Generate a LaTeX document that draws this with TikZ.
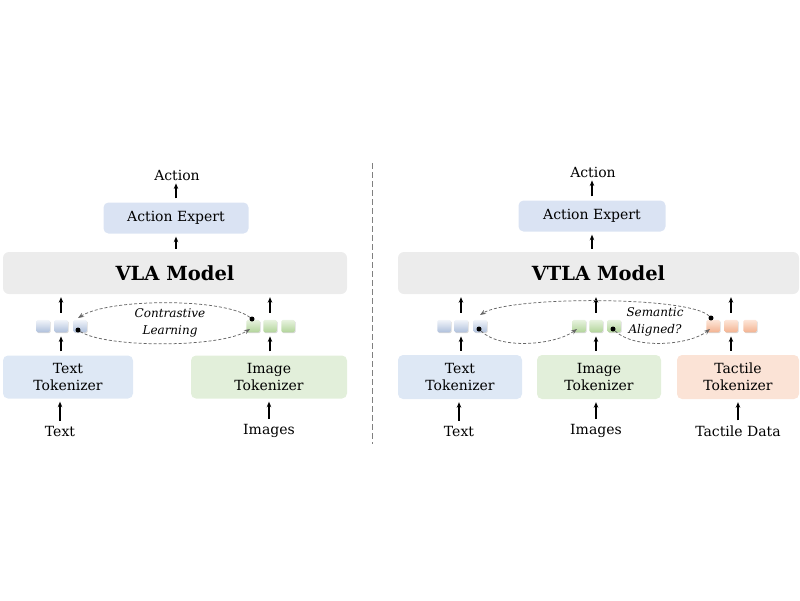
\documentclass[tikz,border=0pt]{standalone}
\usepackage{fontspec}
\setmainfont{DejaVu Serif}
\usetikzlibrary{arrows.meta,calc,shadows,positioning}
\definecolor{aeblue}{HTML}{DAE3F3}
\definecolor{modgray}{HTML}{ECECEC}
\definecolor{txtblue}{HTML}{DEE8F5}
\definecolor{imggreen}{HTML}{E2EFDA}
\definecolor{tacorange}{HTML}{FBE3D6}
\definecolor{tkbluetop}{HTML}{F2F5FA}
\definecolor{tkblue}{HTML}{AFC0DC}
\definecolor{tkgreentop}{HTML}{E8F3E0}
\definecolor{tkgreen}{HTML}{B2D49A}
\definecolor{tkorangetop}{HTML}{FDE6D9}
\definecolor{tkorange}{HTML}{F3B391}
\begin{document}
\begin{tikzpicture}[x=1pt,y=-1pt,
  lbl/.style={font=\fontsize{14}{17}\selectfont, align=center, inner sep=0pt},
  box/.style={rounded corners=5pt, inner sep=0pt, font=\fontsize{14}{17}\selectfont, align=center},
  model/.style={rounded corners=6pt, fill=modgray, inner sep=0pt, font=\bfseries\fontsize{19.5}{22}\selectfont},
  tok/.style={rounded corners=1.5pt, minimum width=13.5pt, minimum height=12.5pt, inner sep=0pt,
     drop shadow={shadow xshift=0.9pt, shadow yshift=-0.9pt, opacity=0.3, fill=gray}},
  tkb/.style={tok, top color=tkbluetop, bottom color=tkblue},
  tkg/.style={tok, top color=tkgreentop, bottom color=tkgreen},
  tko/.style={tok, top color=tkorangetop, bottom color=tkorange},
  up/.style={-{Stealth[length=5.5pt,width=4.5pt]}, line width=1.3pt},
  dashlink/.style={dash pattern=on 3pt off 2pt, draw=black!60, line width=0.75pt, -{Stealth[length=6pt,width=4.5pt]}},
  dotc/.style={circle, fill=black, inner sep=0pt, minimum size=5pt},
  it/.style={font=\itshape\fontsize{12}{17}\selectfont, align=center, inner sep=0pt}
]
\useasboundingbox (0,0) rectangle (800,600);

% divider
\coordinate (dtop) at (372,163);
\coordinate (dbot) at (372,444);
\draw[gray, line width=0.8pt, dash pattern=on 6pt off 3pt] (dtop) -- (dbot);

%%%%%%%%%%%%%%%% LEFT PANEL
\node[lbl] (act1) at (177,175) {Action};
\node[box, fill=aeblue, minimum width=145pt, minimum height=31pt] (ae1) at (176,218) {Action Expert};
\node[model, minimum width=344pt, minimum height=42pt] (m1) at (175,273) {VLA Model};

\node[tkb] (b1) at (43,326) {};
\node[tkb] (b2) at (61,326) {};
\node[tkb] (b3) at (80,326) {};
\node[tkg] (g1) at (253,326) {};
\node[tkg] (g2) at (270,326) {};
\node[tkg] (g3) at (288,326) {};

\node[box, fill=txtblue, minimum width=130pt, minimum height=43pt] (tt1) at (68,377) {Text\\Tokenizer};
\node[box, fill=imggreen, minimum width=156pt, minimum height=43pt] (it1) at (269,377) {Image\\Tokenizer};

\node[lbl] (in1) at (60,431) {Text};
\node[lbl] (in2) at (269,431) {Images};

\draw[up] ($(ae1.north)+(0,-4)$) -- ($(act1.south -| ae1)+(0,3)$);
\draw[up] ($(m1.north -| ae1)+(0,-3)$) -- ($(ae1.south)+(0,3)$);
\draw[up] ($(b2.north)+(0,-7)$) -- ($(m1.south -| b2)+(0,3)$);
\draw[up] ($(g2.north)+(0,-7)$) -- ($(m1.south -| g2)+(0,3)$);
\draw[up] ($(tt1.north -| b2)+(0,-4)$) -- ($(b2.south)+(0,4)$);
\draw[up] ($(it1.north -| g2)+(0,-4)$) -- ($(g2.south)+(0,4)$);
\draw[up] ($(in1.north)+(0,-5)$) -- ($(tt1.south -| in1)+(0,3)$);
\draw[up] ($(in2.north)+(0,-5)$) -- ($(it1.south -| in2)+(0,3)$);

\node[it] (cl) at (170,323) {Contrastive\\Learning};

\node[dotc] (d1) at ($(g1.center)+(-1,-7)$) {};
\node[dotc] (d2) at ($(b3.center)+(-2,4)$) {};
\coordinate (e1) at ($(b3.center)+(-2,-8)$);
\coordinate (e2) at ($(g1.center)+(-3,3)$);
\draw[dashlink] (d1) .. controls (225,298) and (110,298) .. (e1);
\draw[dashlink] (d2) .. controls (105,348) and (220,348) .. (e2);

%%%%%%%%%%%%%%%% RIGHT PANEL
\node[lbl] (act2) at (593,172) {Action};
\node[box, fill=aeblue, minimum width=147pt, minimum height=31pt] (ae2) at (592,216) {Action Expert};
\node[model, minimum width=401pt, minimum height=42pt] (m2) at (598.5,273) {VTLA Model};

\node[tkb] (rb1) at (444,326) {};
\node[tkb] (rb2) at (461,326) {};
\node[tkb] (rb3) at (480,326) {};
\node[tkg] (rg1) at (579,326) {};
\node[tkg] (rg2) at (596,326) {};
\node[tkg] (rg3) at (614,326) {};
\node[tko] (ro1) at (713,326) {};
\node[tko] (ro2) at (731,326) {};
\node[tko] (ro3) at (750,326) {};

\node[box, fill=txtblue, minimum width=124pt, minimum height=44pt] (tt2) at (460,377) {Text\\Tokenizer};
\node[box, fill=imggreen, minimum width=124pt, minimum height=44pt] (it2) at (599,377) {Image\\Tokenizer};
\node[box, fill=tacorange, minimum width=122pt, minimum height=44pt] (ct2) at (738,377) {Tactile\\Tokenizer};

\node[lbl] (rin1) at (459,431) {Text};
\node[lbl] (rin2) at (596,431) {Images};
\node[lbl] (rin3) at (738,431) {Tactile Data};

\draw[up] ($(ae2.north)+(0,-4)$) -- ($(act2.south -| ae2)+(0,3)$);
\draw[up] ($(m2.north -| ae2)+(0,-3)$) -- ($(ae2.south)+(0,3)$);
\draw[up] ($(rb2.north)+(0,-7)$) -- ($(m2.south -| rb2)+(0,3)$);
\draw[up] ($(rg2.north)+(0,-7)$) -- ($(m2.south -| rg2)+(0,3)$);
\draw[up] ($(ro2.north)+(0,-7)$) -- ($(m2.south -| ro2)+(0,3)$);
\draw[up] ($(tt2.north -| rb2)+(0,-4)$) -- ($(rb2.south)+(0,4)$);
\draw[up] ($(it2.north -| rg2)+(0,-4)$) -- ($(rg2.south)+(0,4)$);
\draw[up] ($(ct2.north -| ro2)+(0,-4)$) -- ($(ro2.south)+(0,4)$);
\draw[up] ($(rin1.north)+(0,-5)$) -- ($(tt2.south -| rin1)+(0,3)$);
\draw[up] ($(rin2.north)+(0,-5)$) -- ($(it2.south -| rin2)+(0,3)$);
\draw[up] ($(rin3.north)+(0,-5)$) -- ($(ct2.south -| rin3)+(0,3)$);

\node[it] (sa) at (655,322) {Semantic\\Aligned?};

\node[dotc] (rd1) at ($(ro1.center)+(-2,-8)$) {};
\coordinate (re1) at ($(rb3.center)+(0,-11)$);
\draw[dashlink] (rd1) .. controls (690,296) and (510,296) .. (re1);

\node[dotc] (rd2) at ($(rb3.center)+(-1,3)$) {};
\coordinate (re2) at ($(rg1.center)+(-2,3)$);
\draw[dashlink] (rd2) .. controls (500,350) and (555,345) .. (re2);

\node[dotc] (rd3) at ($(rg3.center)+(-1,3)$) {};
\coordinate (re3) at ($(ro1.center)+(-3,3)$);
\draw[dashlink] (rd3) .. controls (635,350) and (690,345) .. (re3);
\end{tikzpicture}
\end{document}
